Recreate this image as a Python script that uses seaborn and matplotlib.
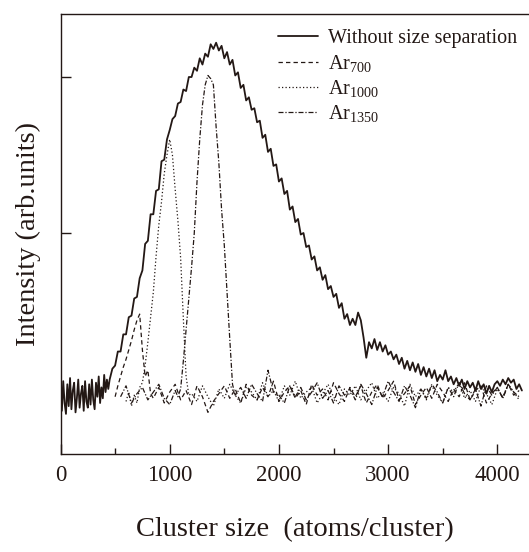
import numpy as np
import pandas as pd
import matplotlib
matplotlib.use("Agg")
import matplotlib.pyplot as plt
import seaborn as sns

sns.set_style("ticks")
plt.rcParams['font.family'] = ['Liberation Serif', 'DejaVu Serif']
plt.rcParams['mathtext.fontset'] = 'custom'
plt.rcParams['mathtext.rm'] = 'Liberation Serif'
plt.rcParams['mathtext.it'] = 'Liberation Serif:italic'

INK = '#231815'

# cluster size grid (atoms/cluster) and intensities
full_x = np.concatenate([np.arange(0, 450, 12.5), np.arange(450, 4250, 25)])
full_y = [
    -0.02, -0.14, 0.05, -0.09, -0.16, 0.03, -0.11, 0.07, -0.13, -0.01,
    0.04, -0.15, -0.06, 0.06, -0.12, -0.03, 0.02, -0.14, 0.05, -0.08,
    -0.12, 0.03, -0.10, 0.06, -0.07, -0.13, 0.04, -0.05, 0.08, -0.09,
    0.01, -0.06, 0.09, -0.02, 0.06, 0.00,
    0.06, 0.13, 0.15, 0.24, 0.24, 0.35, 0.35, 0.46, 0.47, 0.58, 0.59, 0.71,
    0.76, 0.93, 0.95, 1.12, 1.12, 1.27, 1.28, 1.46, 1.47, 1.60,
    1.66, 1.73, 1.75, 1.83, 1.84, 1.92, 1.91, 2.00, 2.00, 2.06,
    2.04, 2.12, 2.08, 2.15, 2.13, 2.21, 2.18, 2.22, 2.17, 2.20,
    2.12, 2.16, 2.08, 2.11, 2.01, 2.03, 1.93, 1.95, 1.85, 1.87,
    1.79, 1.80, 1.71, 1.72, 1.61, 1.63, 1.52, 1.54, 1.43, 1.44,
    1.33, 1.35, 1.25, 1.27, 1.15, 1.17, 1.07, 1.09, 0.99, 1.00,
    0.91, 0.92, 0.83, 0.85, 0.76, 0.78, 0.70, 0.73, 0.64, 0.66,
    0.59, 0.61, 0.52, 0.55, 0.45, 0.48, 0.41, 0.45, 0.41, 0.49,
    0.44, 0.33, 0.20, 0.30, 0.26, 0.32, 0.25, 0.30, 0.24, 0.28,
    0.22, 0.24, 0.19, 0.22, 0.16, 0.20, 0.13, 0.18, 0.12, 0.17,
    0.11, 0.16, 0.09, 0.14, 0.08, 0.13, 0.07, 0.12, 0.05, 0.09,
    0.06, 0.12, 0.05, 0.08, 0.03, 0.07, 0.02, 0.06, 0.00, 0.05,
    0.01, 0.04, -0.01, 0.05, 0.00, 0.03, -0.03, 0.02, -0.02, 0.03,
    0.05, 0.02, 0.06, 0.03, 0.07, 0.04, 0.06, 0.00, 0.03, -0.01,
]

ar700_x = np.concatenate([np.arange(500, 850, 25), np.arange(850, 4250, 50)])
ar700_y = [
    -0.05, 0.02, 0.08, 0.14, 0.19, 0.25, 0.31, 0.38, 0.44, 0.48,
    0.25, 0.08, 0.12, -0.03,
    -0.06, 0.01, -0.09, -0.02, 0.03, -0.07, -0.01, -0.10, 0.02, -0.05,
    -0.15, -0.08, -0.03, 0.02, -0.06, 0.00, -0.09, 0.03, -0.04, -0.07,
    0.01, -0.05, 0.05, -0.08, -0.02, 0.02, -0.06, -0.01, -0.10, 0.03,
    -0.04, 0.00, -0.07, 0.04, -0.03, -0.08, 0.01, -0.05, 0.02, -0.09,
    -0.02, 0.03, -0.06, -0.01, 0.05, -0.07, -0.03, 0.02, -0.10, -0.04,
    0.01, -0.06, 0.03, -0.02, -0.08, 0.00, -0.05, 0.04, -0.07, -0.01,
    0.02, -0.09, -0.03, 0.01, -0.06, 0.03, -0.04, -0.01,
]

ar1000_x = np.concatenate([np.arange(600, 1200, 25), np.arange(1200, 4250, 50)])
ar1000_y = [
    -0.08, -0.02, -0.11, -0.04, -0.09, 0.01, 0.04, 0.15, 0.30, 0.46,
    0.62, 0.85, 1.05, 1.20, 1.38, 1.50, 1.60, 1.50, 1.28, 1.08,
    0.84, 0.45, 0.08, -0.04,
    -0.03, -0.08, 0.02, -0.05, -0.11, 0.00, -0.06, 0.03, -0.04, -0.09,
    0.01, -0.02, -0.07, 0.04, -0.05, -0.01, -0.08, 0.02, -0.04, 0.05,
    -0.06, -0.02, 0.01, -0.09, -0.03, 0.03, -0.05, -0.10, 0.00, -0.04,
    0.02, -0.07, -0.01, 0.04, -0.06, -0.02, -0.08, 0.01, -0.03, -0.11,
    0.03, -0.05, 0.00, -0.07, 0.02, -0.04, -0.09, 0.01, -0.02, 0.04,
    -0.06, -0.01, -0.08, 0.02, -0.03, -0.10, 0.00, -0.05, 0.03, -0.02,
    -0.07,
]

ar1350_x = np.concatenate([np.arange(550, 1075, 50), np.arange(1075, 1625, 25),
                           np.arange(1650, 4250, 50)])
ar1350_y = [
    -0.05, 0.02, -0.09, -0.03, 0.01, -0.07, -0.02, 0.03, -0.06, -0.10, -0.01,
    -0.05, 0.00, 0.18, 0.38, 0.58, 0.78, 1.00, 1.33, 1.60, 1.82,
    1.95, 2.01, 1.99, 1.95, 1.68, 1.45, 1.15, 0.92, 0.62, 0.32, 0.03, -0.04,
    0.01, -0.06, 0.03, -0.03, -0.08, 0.12, -0.02, -0.04, -0.09, 0.02,
    -0.05, 0.01, -0.07, -0.02, 0.04, -0.06, -0.01, -0.09, 0.02, -0.04,
    0.00, -0.07, 0.03, -0.03, -0.10, 0.01, -0.05, 0.05, -0.02, -0.08,
    0.02, -0.04, -0.12, 0.00, -0.06, 0.03, -0.02, -0.09, 0.01, -0.05,
    0.04, -0.03, -0.07, 0.00, -0.11, 0.02, -0.04, 0.01, -0.06, 0.03,
    -0.02, -0.05,
]

labels = ['Without size separation', r'Ar$_{\mathrm{700}}$',
          r'Ar$_{\mathrm{1000}}$', r'Ar$_{\mathrm{1350}}$']

fig = plt.figure(figsize=(5.29, 5.52), dpi=100)
ax = fig.add_axes([60.5 / 529, 98 / 552, 468.5 / 529, 440.3 / 552])

sns.lineplot(x=full_x, y=full_y, ax=ax, color=INK, lw=1.3, label=labels[0],
             estimator=None, sort=False)
sns.lineplot(x=ar700_x, y=ar700_y, ax=ax, color=INK, lw=0.9, label=labels[1],
             estimator=None, sort=False, linestyle=(0, (3.5, 2.5)))
sns.lineplot(x=ar1000_x, y=ar1000_y, ax=ax, color=INK, lw=0.9, label=labels[2],
             estimator=None, sort=False, linestyle=(0, (1, 1.8)))
sns.lineplot(x=ar1350_x, y=ar1350_y, ax=ax, color=INK, lw=0.9, label=labels[3],
             estimator=None, sort=False, linestyle=(0, (4, 1.5, 1, 1.5)))

ax.set_xlim(0, 4290)
ax.set_ylim(-0.417, 2.406)
ax.set_xticks([0, 1000, 2000, 3000, 4000])
ax.set_xticks([500, 1500, 2500, 3500], minor=True)
ax.set_yticks([1, 2])
ax.set_yticklabels([])
ax.tick_params(axis='both', which='major', direction='in', length=7, width=1.0,
               labelsize=16.5, pad=8, colors=INK)
ax.tick_params(axis='x', which='minor', direction='in', length=4, width=1.0, colors=INK)
ax.spines['right'].set_visible(False)
for s in ['left', 'top', 'bottom']:
    ax.spines[s].set_linewidth(1.0)
    ax.spines[s].set_color(INK)

ax.set_xlabel('Cluster size  (atoms/cluster)', fontsize=20.5, color=INK, labelpad=22)
ax.set_ylabel('Intensity (arb.units)', fontsize=20.5, color=INK, labelpad=6)

ax.legend(loc='upper left', bbox_to_anchor=(0.464, 0.965), frameon=False,
          fontsize=14.5, handlelength=2.0, handletextpad=0.5, labelspacing=0.22,
          borderpad=0, borderaxespad=0, labelcolor=INK)

fig.savefig('out.png', dpi=100)
